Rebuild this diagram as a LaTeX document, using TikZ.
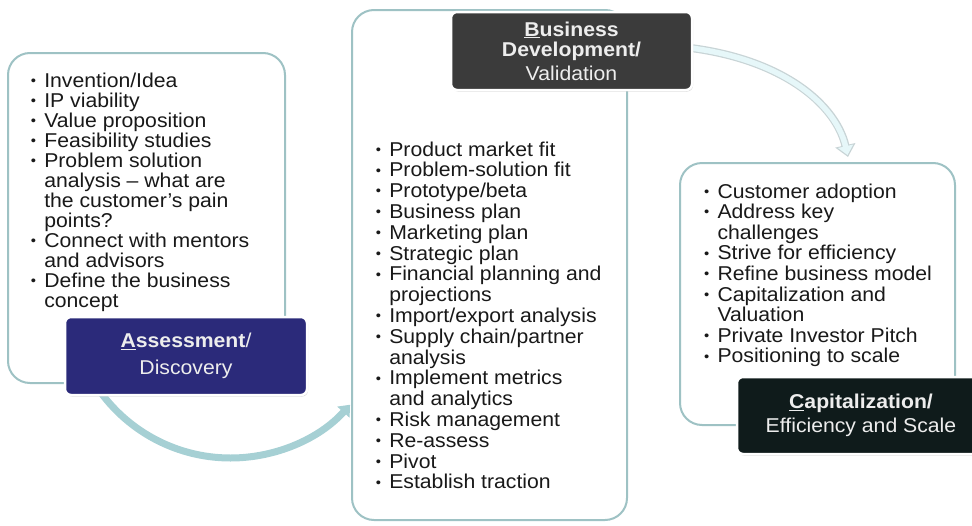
\documentclass[tikz,border=0pt]{standalone}
\usepackage{fontspec}
\setmainfont{Liberation Sans}[FakeStretch=1.06]
\usetikzlibrary{shadows,arrows.meta}
\definecolor{frame}{HTML}{9EC2C4}
\definecolor{navy}{HTML}{2B2A7A}
\definecolor{charcoal}{HTML}{3B3B3B}
\definecolor{darkslate}{HTML}{0F1B1B}
\definecolor{arrowteal}{HTML}{A6D0D4}
\definecolor{arrowlight}{HTML}{E6F7F9}
\definecolor{arrowedge}{HTML}{C8D4D6}
\definecolor{labeltext}{HTML}{EDEDED}
\newcommand\bul{\makebox[14.5pt][l]{\hspace*{1pt}\raisebox{1.8pt}{\fontsize{14}{14}\selectfont •}}}
\newcommand\ind{\hspace*{14.5pt}}
\begin{document}
\begin{tikzpicture}[x=1pt,y=-1pt,
  container/.style={draw=frame, line width=2pt, rounded corners=22pt, fill=white, inner sep=0pt},
  stagelabel/.style={draw=white, line width=2.5pt, rounded corners=6pt, text=labeltext,
    align=center, inner sep=0pt,
    drop shadow={shadow xshift=1pt, shadow yshift=-1.5pt, opacity=0.35}},
  listtext/.style={anchor=north west, inner sep=0pt, align=left, text=black!90},
  flowarrow/.style={line width=7pt, color=arrowteal, -{Triangle[width=16pt,length=10pt]}}]
\useasboundingbox (0,0) rectangle (972,525);
\clip (0,0) rectangle (972,525);
% containers
\node[container, minimum width=277pt, minimum height=330pt] (lbox) at (146.5,218) {};
\node[container, minimum width=275pt, minimum height=510pt] (mbox) at (489.5,265) {};
\node[container, minimum width=275pt, minimum height=262pt] (rbox) at (817.5,294) {};
% lists
\node[listtext, font=\fontsize{20}{20}\selectfont] (ltext) at (29.6,72.4) {%
\bul Invention/Idea\\
\bul IP viability\\
\bul Value proposition\\
\bul Feasibility studies\\
\bul Problem solution\\
\ind analysis -- what are\\
\ind the customer’s pain\\
\ind points?\\
\bul Connect with mentors\\
\ind and advisors\\
\bul Define the business\\
\ind concept};
\node[listtext, font=\fontsize{20}{20.8}\selectfont] (mtext) at (374.6,141.4) {%
\bul Product market fit\\
\bul Problem-solution fit\\
\bul Prototype/beta\\
\bul Business plan\\
\bul Marketing plan\\
\bul Strategic plan\\
\bul Financial planning and\\
\ind projections\\
\bul Import/export analysis\\
\bul Supply chain/partner\\
\ind analysis\\
\bul Implement metrics\\
\ind and analytics\\
\bul Risk management\\
\bul Re-assess\\
\bul Pivot\\
\bul Establish traction};
\node[listtext, font=\fontsize{20}{20.6}\selectfont] (rtext) at (702.8,183.4) {%
\bul Customer adoption\\
\bul Address key\\
\ind challenges\\
\bul Strive for efficiency\\
\bul Refine business model\\
\bul Capitalization and\\
\ind Valuation\\
\bul Private Investor Pitch\\
\bul Positioning to scale};
% arrows
\coordinate (arcstart) at (91,377.5);
\draw[flowarrow] (arcstart) arc[start angle=150, end angle=42, radius=161];
\coordinate (topstart) at (651,45);
\coordinate (toptip) at (848,157);
\draw[line width=8pt, color=arrowedge, -{Triangle[width=20pt,length=12pt]}]
  (topstart) .. controls (770,48) and (835,100) .. (toptip);
\draw[line width=5.5pt, color=arrowlight, shorten >=2pt, -{Triangle[width=15pt,length=9pt]}]
  (topstart) .. controls (770,48) and (835,100) .. (toptip);
% stage labels
\node[stagelabel, fill=navy, minimum width=242pt, minimum height=78pt,
  font=\fontsize{20}{20}\selectfont] (assess) at (186,356)
  {\textbf{\underline{A}ssessment}/\\[7pt]Discovery};
\node[stagelabel, fill=charcoal, minimum width=241pt, minimum height=78pt,
  font=\fontsize{20}{20}\selectfont] (bizdev) at (571.5,51)
  {\textbf{\underline{B}usiness}\\\textbf{Development/}\\[4pt]Validation};
\node[stagelabel, fill=darkslate, minimum width=248pt, minimum height=77pt,
  font=\fontsize{20}{20}\selectfont] (capital) at (861,415.5)
  {\textbf{\underline{C}apitalization/}\\[4pt]Efficiency and Scale};
\end{tikzpicture}
\end{document}
